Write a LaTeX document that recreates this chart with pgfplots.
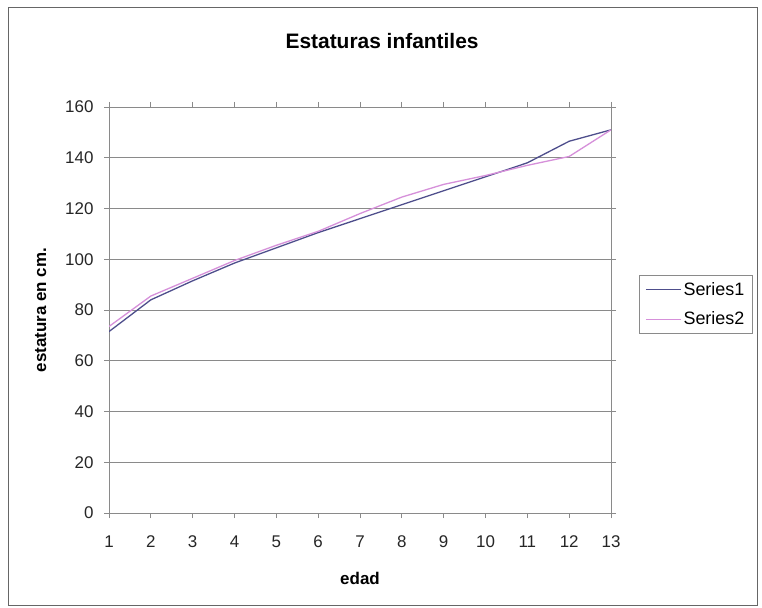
\documentclass[border=0pt]{standalone}
\usepackage{pgfplots}
\pgfplotsset{compat=1.18}
\usepackage{fontspec}
\setmainfont{Liberation Sans}
\definecolor{sone}{HTML}{4E4E8C}
\definecolor{stwo}{HTML}{D690DA}
\definecolor{gridc}{HTML}{8A8A8A}
\begin{document}
\begin{tikzpicture}
\useasboundingbox (0,0) rectangle (762bp,608bp);
\fill[white] (0,0) rectangle (762bp,608bp);
\draw[gray!80!black, line width=1bp] (8bp,2bp) rectangle (757bp,600bp);
\begin{axis}[
  at={(109bp,95bp)}, anchor=south west,
  scale only axis, width=502bp, height=406bp,
  xmin=1, xmax=13, ymin=0, ymax=160,
  xtick={1,...,13}, ytick={0,20,...,160},
  tick align=outside, major tick length=5bp,
  tick style={gridc, line width=0.8bp},
  axis line style={gridc, line width=0.8bp},
  ymajorgrids, grid style={gridc, line width=0.8bp},
  /pgf/number format/assume math mode=true,
  tick label style={font=\fontsize{17}{20}\selectfont, text=black!85},
  xticklabel style={yshift=-14bp},
  yticklabel style={xshift=-7bp},
  title={\textbf{Estaturas infantiles}},
  title style={font=\fontsize{21}{24}\selectfont, at={(axis description cs:0.544,1.147)}, anchor=center},
  xlabel={\textbf{edad}},
  xlabel style={font=\fontsize{17}{20}\selectfont, at={(axis description cs:0.5,-0.16)}, anchor=center},
  ylabel={\textbf{estatura en cm.}},
  ylabel style={font=\fontsize{17}{20}\selectfont, at={(axis description cs:-0.136,0.5)}, anchor=center, rotate=0},
  legend style={at={(axis description cs:1.0555,0.586)}, anchor=north west,
    draw=gridc, line width=0.8bp, font=\fontsize{18}{21}\selectfont,
    inner xsep=6bp, inner ysep=5bp, row sep=11bp, cells={anchor=west}},
  legend image code/.code={\draw[#1] (0bp,0bp) -- (35bp,0bp);},
]
\addplot[sone, line width=1.3bp] coordinates {
(1,71.5) (2,84) (3,91.5) (4,98.5) (5,104.5) (6,110.5) (7,116) (8,121.5) (9,127) (10,132.5) (11,138) (12,146.5) (13,151)};
\addplot[stwo, line width=1.3bp] coordinates {
(1,73.5) (2,85.5) (3,92.5) (4,99.5) (5,105.5) (6,111) (7,118) (8,124.5) (9,129.5) (10,133) (11,137) (12,140.5) (13,151)};
\legend{Series1,Series2}
\end{axis}
\end{tikzpicture}
\end{document}
